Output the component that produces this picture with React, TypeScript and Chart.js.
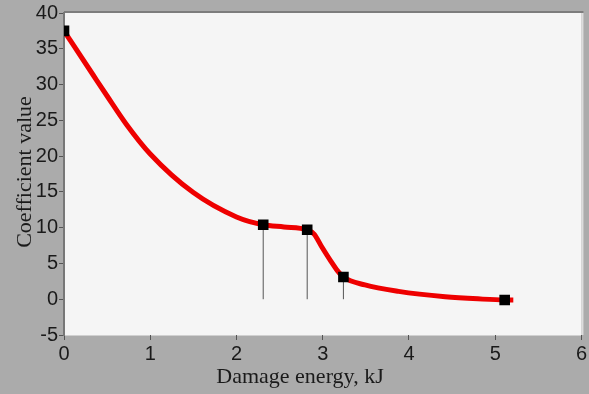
import React, { useEffect, useRef } from "react";
import { Chart, registerables } from "chart.js";

Chart.register(...registerables);

const curveX = [0, 0.34, 0.5, 0.72, 1.0, 1.5, 2.0, 2.31, 2.55, 2.82, 2.9, 2.99, 3.09, 3.17, 3.24, 3.49, 3.88, 4.42, 4.8, 5.11, 5.21];
const curveY = [37.5, 31.3, 28.4, 24.5, 20.3, 14.9, 11.5, 10.4, 10.1, 9.7, 9.1, 7.3, 5.4, 4.0, 3.1, 2.0, 1.1, 0.35, 0.05, -0.1, -0.1];
const markerX = [0, 2.31, 2.82, 3.24, 5.11];
const markerY = [37.5, 10.4, 9.7, 3.1, -0.1];
const dropX = [2.31, 2.82, 3.24];
const dropY = [10.4, 9.7, 3.1];
const xTitle = "Damage energy, kJ";
const yTitle = "Coefficient value";

const bgPlugin = {
  id: "bg",
  beforeDraw(chart: any) {
    const { ctx, chartArea: a, width, height } = chart;
    ctx.save();
    ctx.fillStyle = "#ababab";
    ctx.fillRect(0, 0, width, height);
    ctx.fillStyle = "#f5f5f5";
    ctx.fillRect(a.left, a.top, a.right - a.left, a.bottom - a.top);
    ctx.fillStyle = "#7d7d7d";
    ctx.fillRect(a.left, a.top - 2, a.right - a.left + 2, 2);
    ctx.fillStyle = "#dcdcdc";
    ctx.fillRect(a.right, a.top, 2, a.bottom - a.top);
    ctx.fillStyle = "#d0d0d0";
    ctx.fillRect(a.left, a.bottom, a.right - a.left, 1);
    ctx.restore();
  },
  afterDraw(chart: any) {
    const { ctx } = chart;
    ctx.save();
    ctx.fillStyle = "#1a1a1a";
    ctx.font = "22px 'Liberation Serif'";
    ctx.textAlign = "center";
    ctx.textBaseline = "alphabetic";
    ctx.fillText(xTitle, 300, 383);
    ctx.translate(25, 172);
    ctx.rotate(-Math.PI / 2);
    ctx.textBaseline = "middle";
    ctx.fillText(yTitle, 0, 0);
    ctx.restore();
  },
};

export default function App() {
  const ref = useRef<HTMLCanvasElement>(null);
  useEffect(() => {
    document.body.style.margin = "0";
    const datasets: any[] = [];
    dropX.forEach((x, i) => {
      datasets.push({
        type: "line",
        data: [{ x, y: 0 }, { x, y: dropY[i] }],
        borderColor: "#555555",
        borderWidth: 1,
        pointRadius: 0,
        order: 3,
      });
    });
    datasets.push({
      type: "line",
      data: curveX.map((x, i) => ({ x, y: curveY[i] })),
      borderColor: "#ee0000",
      borderWidth: 5,
      pointRadius: 0,
      cubicInterpolationMode: "monotone",
      order: 2,
    });
    datasets.push({
      type: "scatter",
      data: markerX.map((x, i) => ({ x, y: markerY[i] })),
      backgroundColor: "#000000",
      borderColor: "#000000",
      pointStyle: "rect",
      pointRadius: 7.5,
      borderWidth: 0,
      order: 1,
    });
    const chart = new Chart(ref.current!, {
      type: "line",
      data: { datasets },
      plugins: [bgPlugin],
      options: {
        animation: false,
        responsive: false,
        layout: { padding: { top: 11, right: 5, left: 0, bottom: 0 } },
        plugins: { legend: { display: false }, tooltip: { enabled: false } },
        scales: {
          x: {
            type: "linear",
            min: 0,
            max: 6,
            ticks: { stepSize: 1, color: "#1a1a1a", font: { family: "Liberation Sans", size: 20 }, padding: 2 },
            grid: { drawOnChartArea: false, drawTicks: true, tickLength: 5, color: "#555" },
            border: { display: false },
            title: { display: false },
            afterFit: (s: any) => { s.height = 59; },
          },
          y: {
            type: "linear",
            min: -5,
            max: 40,
            ticks: { stepSize: 5, color: "#1a1a1a", font: { family: "Liberation Sans", size: 20 }, padding: 1 },
            grid: { drawOnChartArea: false, drawTicks: true, tickLength: 5, color: "#555" },
            border: { display: true, color: "#777", width: 2 },
            title: { display: false },
            afterFit: (s: any) => { s.width = 64; },
          },
        },
      },
    });
    return () => chart.destroy();
  }, []);
  return (
    <div style={{ position: "absolute", left: 0, top: 0, width: 589, height: 394 }}>
      <canvas ref={ref} width={589} height={394} style={{ width: 589, height: 394, display: "block" }} />
    </div>
  );
}
